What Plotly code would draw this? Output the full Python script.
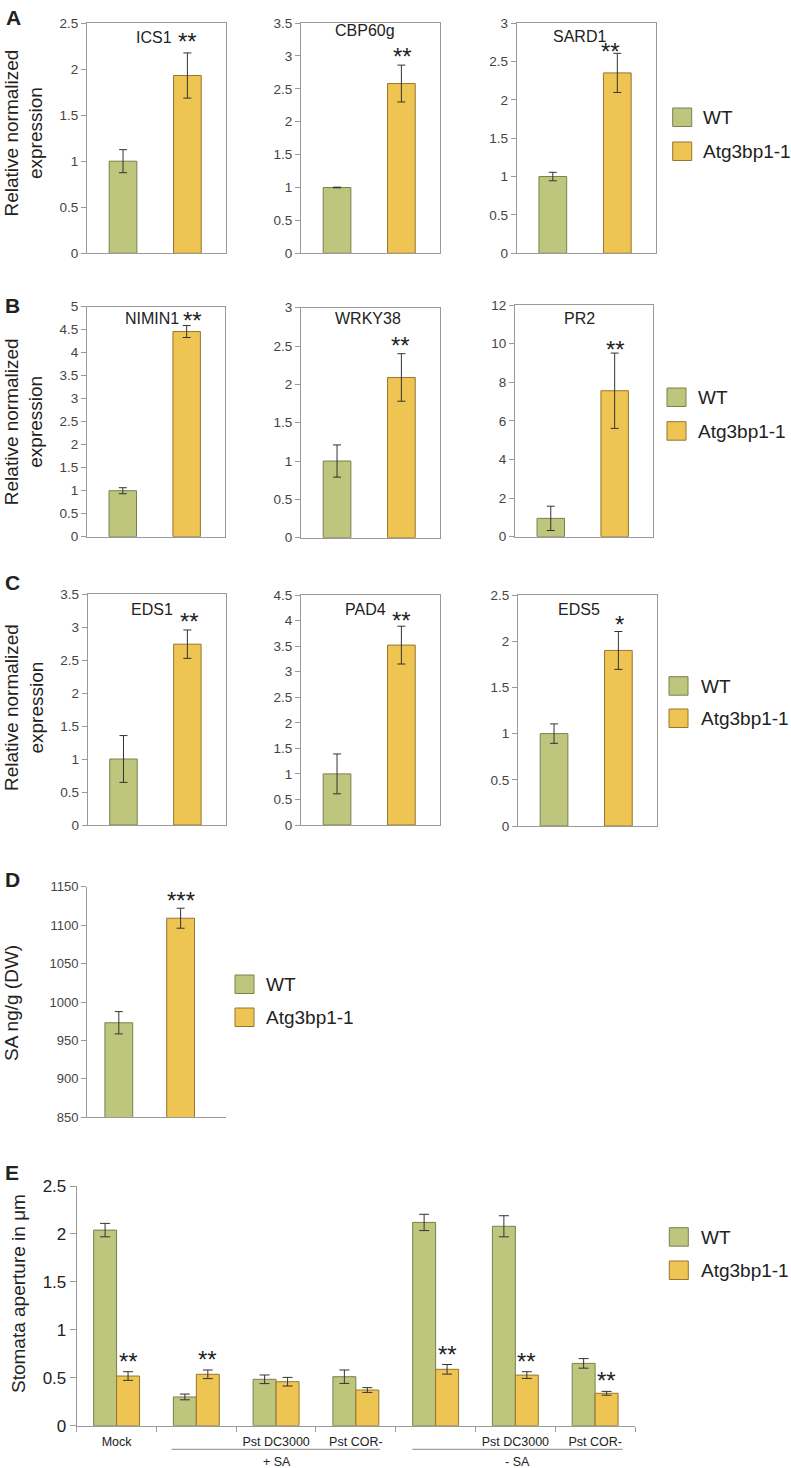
import plotly.graph_objects as go

# ---------------- data ----------------
genes_A = ["ICS1", "CBP60g", "SARD1"]
wt_A = [1.0, 1.0, 1.0]
wt_A_err = [0.125, 0.005, 0.055]
atg_A = [1.93, 2.58, 2.35]
atg_A_err = [0.245, 0.28, 0.255]
ymax_A = [2.5, 3.5, 3.0]
dtick_A = [0.5, 0.5, 0.5]
stars_A = ["**", "**", "**"]

genes_B = ["NIMIN1", "WRKY38", "PR2"]
wt_B = [1.0, 1.0, 0.95]
wt_B_err = [0.065, 0.21, 0.63]
atg_B = [4.46, 2.09, 7.56]
atg_B_err = [0.13, 0.31, 1.95]
ymax_B = [5, 3, 12]
dtick_B = [0.5, 0.5, 2]
stars_B = ["**", "**", "**"]

genes_C = ["EDS1", "PAD4", "EDS5"]
wt_C = [1.0, 1.0, 1.0]
wt_C_err = [0.355, 0.39, 0.105]
atg_C = [2.74, 3.52, 1.90]
atg_C_err = [0.215, 0.37, 0.205]
ymax_C = [3.5, 4.5, 2.5]
dtick_C = [0.5, 0.5, 0.5]
stars_C = ["**", "**", "*"]

sa_wt = 973
sa_wt_err = 14.5
sa_atg = 1109
sa_atg_err = 13
sa_range = [850, 1150]
sa_star = "***"

e_labels = ["Mock", "", "Pst DC3000", "Pst COR-", "", "Pst DC3000", "Pst COR-"]
e_wt = [2.04, 0.30, 0.484, 0.511, 2.12, 2.08, 0.65]
e_wt_err = [0.07, 0.03, 0.045, 0.07, 0.085, 0.11, 0.05]
e_atg = [0.518, 0.536, 0.459, 0.372, 0.588, 0.528, 0.338]
e_atg_err = [0.045, 0.045, 0.045, 0.025, 0.05, 0.035, 0.02]
e_stars = ["**", "**", "", "", "**", "**", "**"]
e_groups = ["+ SA", "- SA"]

series_names = ["WT", "Atg3bp1-1"]

# ---------------- style ----------------
W, H = 791, 1468
FONT = "Arial, Liberation Sans, sans-serif"
GREEN = "rgb(189,198,124)"
GREEN_L = "rgb(120,128,78)"
YELLOW = "rgb(238,196,82)"
YELLOW_L = "rgb(150,118,48)"
AX = "#9a9a9a"
TXT = "#222222"
TICK = "#444444"
STAR = 24


def px(x, y):
    return x / W, 1 - y / H


fig = go.Figure()
layout = dict(
    template="none",
    width=W, height=H, margin=dict(l=0, r=0, t=0, b=0, pad=0),
    paper_bgcolor="white", plot_bgcolor="white",
    barmode="overlay", showlegend=False,
    font=dict(family=FONT, color=TXT),
)
annotations = []
shapes = []

boxes = {
    "A": [(87, 226, 23, 253.3), (301, 440, 23, 253.3), (516.7, 656, 23, 253.3)],
    "B": [(87, 225, 306.7, 536.7), (301, 440, 307.7, 537.7), (515, 653, 305, 536.7)],
    "C": [(87.7, 225.7, 594, 825), (301, 440, 595, 825), (518, 657, 595, 826)],
}
title_pos = {
    "A": [(154, 38), (365, 31), (579, 37)],
    "B": [(151.7, 318), (367.8, 319), (579, 319)],
    "C": [(151.7, 609), (365, 609), (579, 609)],
}
star_pos = {
    "A": [(187, 41.5), (402.5, 56.5), (610.5, 51.5)],
    "B": [(192, 320.5), (400.8, 345.5), (615, 349.5)],
    "C": [(189, 621.5), (401.7, 620.5), (619.3, 624.5)],
}
panel_data = {
    "A": (genes_A, wt_A, wt_A_err, atg_A, atg_A_err, ymax_A, dtick_A, stars_A),
    "B": (genes_B, wt_B, wt_B_err, atg_B, atg_B_err, ymax_B, dtick_B, stars_B),
    "C": (genes_C, wt_C, wt_C_err, atg_C, atg_C_err, ymax_C, dtick_C, stars_C),
}


def ann(text, x, y, size, xanchor="center", yanchor="middle", **kw):
    X, Y = px(x, y)
    d = dict(text=text, x=X, y=Y, xref="paper", yref="paper", xanchor=xanchor,
             yanchor=yanchor, showarrow=False, font=dict(size=size, color=TXT, family=FONT))
    d.update(kw)
    annotations.append(d)


def axis_names(i):
    s = "" if i == 1 else str(i)
    return "x" + s, "y" + s, "xaxis" + s, "yaxis" + s


def bar_pair(xa, ya, wt, wte, atg, atge, width):
    fig.add_trace(go.Bar(x=[0], y=[wt], width=width, name=series_names[0],
                         marker=dict(color=GREEN, line=dict(color=GREEN_L, width=1)),
                         error_y=dict(type="data", array=[wte], color="#333", thickness=1, width=4),
                         xaxis=xa, yaxis=ya))
    fig.add_trace(go.Bar(x=[1], y=[atg], width=width, name=series_names[1],
                         marker=dict(color=YELLOW, line=dict(color=YELLOW_L, width=1)),
                         error_y=dict(type="data", array=[atge], color="#333", thickness=1, width=4),
                         xaxis=xa, yaxis=ya))


idx = 0
for p in ["A", "B", "C"]:
    genes, wt, wte, atg, atge, ymax, dt, stars = panel_data[p]
    for j in range(3):
        idx += 1
        xa, ya, xk, yk = axis_names(idx)
        x0, x1, y0, y1 = boxes[p][j]
        bar_pair(xa, ya, wt[j], wte[j], atg[j], atge[j], 0.43)
        layout[xk] = dict(domain=[x0 / W, x1 / W], range=[-0.56, 1.6], anchor=ya,
                          automargin=False,
                          showline=True, linecolor=AX, linewidth=1, mirror=True,
                          showticklabels=False, ticks="", showgrid=False, zeroline=False)
        layout[yk] = dict(domain=[1 - y1 / H, 1 - y0 / H], range=[0, ymax[j]], anchor=xa,
                          automargin=False,
                          tick0=0, dtick=dt[j], showline=True, linecolor=AX, linewidth=1,
                          mirror=True, ticks="outside", ticklen=5, tickcolor=AX,
                          tickfont=dict(size=13.5, color=TICK, family=FONT),
                          showgrid=False, zeroline=False)
        ann(genes[j], *title_pos[p][j], 16)
        ann(stars[j], *star_pos[p][j], STAR)

# Panel D
idx += 1
xa, ya, xk, yk = axis_names(idx)
bar_pair(xa, ya, sa_wt, sa_wt_err, sa_atg, sa_atg_err, 0.45)
layout[xk] = dict(domain=[87 / W, 225.7 / W], range=[-0.515, 1.73], anchor=ya,
                  automargin=False,
                  showline=True, linecolor=AX, linewidth=1, showticklabels=False,
                  ticks="", showgrid=False, zeroline=False)
layout[yk] = dict(domain=[1 - 1117.3 / H, 1 - 886.7 / H], range=sa_range, anchor=xa,
                  automargin=False,
                  tick0=850, dtick=50, showline=True, linecolor=AX, linewidth=1,
                  ticks="outside", ticklen=5, tickcolor=AX,
                  tickfont=dict(size=13, color=TICK, family=FONT),
                  showgrid=False, zeroline=False)
ann(sa_star, 180.8, 900.5, STAR)

# Panel E
idx += 1
xa, ya, xk, yk = axis_names(idx)
bw = 0.288
xs = list(range(len(e_labels)))
fig.add_trace(go.Bar(x=xs, y=e_wt, width=bw, offset=-bw, name=series_names[0],
                     marker=dict(color=GREEN, line=dict(color=GREEN_L, width=1)),
                     error_y=dict(type="data", array=e_wt_err, color="#333", thickness=1, width=5),
                     xaxis=xa, yaxis=ya))
fig.add_trace(go.Bar(x=xs, y=e_atg, width=bw, offset=0, name=series_names[1],
                     marker=dict(color=YELLOW, line=dict(color=YELLOW_L, width=1)),
                     error_y=dict(type="data", array=e_atg_err, color="#333", thickness=1, width=5),
                     xaxis=xa, yaxis=ya))
layout[xk] = dict(domain=[76.7 / W, 635 / W], range=[-0.5, 6.5], anchor=ya,
                  automargin=False,
                  showline=True, linecolor=AX, linewidth=1,
                  tickmode="array", tickvals=xs, ticktext=e_labels, ticks="",
                  ticklabelstandoff=4,
                  tickfont=dict(size=12.5, color=TXT, family=FONT),
                  minor=dict(tickmode="array", tickvals=[i - 0.5 for i in range(8)],
                             ticks="outside", ticklen=5, tickcolor=AX, showgrid=False),
                  showgrid=False, zeroline=False)
layout[yk] = dict(domain=[1 - 1425.7 / H, 1 - 1186 / H], range=[0, 2.5], anchor=xa,
                  automargin=False,
                  tick0=0, dtick=0.5, showline=True, linecolor=AX, linewidth=1,
                  ticks="outside", ticklen=6, tickcolor=AX,
                  tickfont=dict(size=17, color=TXT, family=FONT),
                  showgrid=False, zeroline=False)
for i, s in enumerate(e_stars):
    if s:
        annotations.append(dict(text=s, x=i + bw / 2, y=e_atg[i] + e_atg_err[i],
                                xref=xa, yref=ya, xanchor="center", yanchor="bottom", yshift=-5,
                                showarrow=False, font=dict(size=STAR, color=TXT, family=FONT)))
for (gx0, gx1, gxc), g in zip([(171.7, 380, 277), (412.3, 622.7, 517)], e_groups):
    shapes.append(dict(type="line", xref="paper", yref="paper",
                       x0=gx0 / W, x1=gx1 / W, y0=1 - 1449.3 / H, y1=1 - 1449.3 / H,
                       line=dict(color="#888", width=1)))
    ann(g, gxc, 1462, 12.5)

# legends (drawn)
legend_pos = [
    (672.7, 108, 142, 700.7),
    (667, 388, 421.7, 696),
    (669, 676.7, 709, 699),
    (235, 975, 1008, 264.3),
    (669.3, 1227.7, 1261, 699.3),
]
for lx, wy, ay, tx in legend_pos:
    for (yy, col, lc, name) in [(wy, GREEN, GREEN_L, series_names[0]),
                                (ay, YELLOW, YELLOW_L, series_names[1])]:
        shapes.append(dict(type="rect", xref="paper", yref="paper",
                           x0=lx / W, x1=(lx + 19) / W, y0=1 - (yy + 18.5) / H, y1=1 - yy / H,
                           fillcolor=col, line=dict(color=lc, width=1)))
        ann(name, tx, yy + 9.5, 19, xanchor="left")

# y titles
for (tx, ty, t) in [(23.5, 133, "Relative normalized<br>expression"),
                    (23.5, 421.7, "Relative normalized<br>expression"),
                    (23.5, 707.5, "Relative normalized<br>expression"),
                    (12, 1003, "SA ng/g (DW)"),
                    (18, 1294, "Stomata aperture in \u03bcm")]:
    ann(t, tx, ty, 19, textangle=-90)

# panel letters
for (lx, ly, t) in [(13.3, 17.5, "A"), (12.5, 305.3, "B"), (12.5, 582, "C"),
                    (12.5, 879, "D"), (12.5, 1172, "E")]:
    ann("<b>" + t + "</b>", lx, ly, 21)

layout["annotations"] = annotations
layout["shapes"] = shapes
fig.update_layout(**layout)
fig.write_html("out.html", config={"displayModeBar": False},
               post_script="document.body.style.margin='0';")
